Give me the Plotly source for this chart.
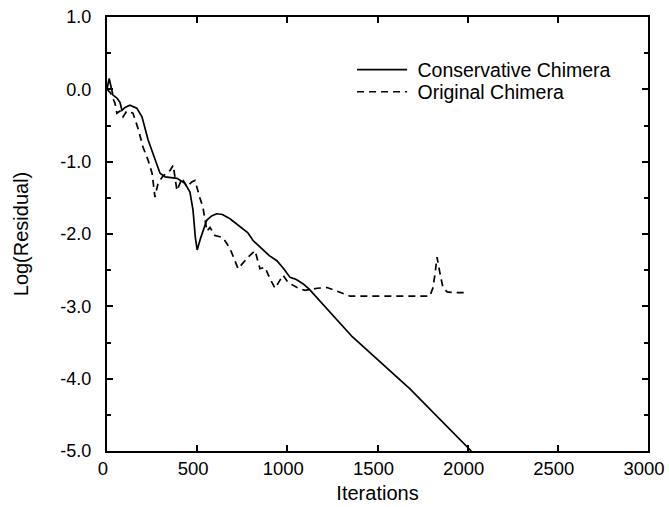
import plotly.graph_objects as go

# Conservative Chimera (solid)
cons_iter = [0, 5, 12, 33, 55, 72, 83, 100, 127, 165, 194, 228, 266, 294, 322, 360, 388, 432, 460, 477,
             490, 500, 520, 553, 580, 608, 640, 682, 738, 780, 810, 848, 865, 900, 942, 980, 1015, 1050,
             1088, 1120, 1360, 1680, 2020]
cons_val = [0.0, 0.05, 0.15, -0.08, -0.12, -0.18, -0.29, -0.25, -0.22, -0.26, -0.38, -0.70, -0.98, -1.16,
            -1.21, -1.22, -1.23, -1.30, -1.42, -1.67, -2.05, -2.22, -2.05, -1.81, -1.75, -1.72, -1.73,
            -1.79, -1.90, -1.98, -2.09, -2.18, -2.23, -2.30, -2.37, -2.48, -2.60, -2.63, -2.69, -2.76,
            -3.42, -4.14, -5.0]

# Original Chimera (dashed)
orig_iter = [0, 20, 44, 55, 72, 89, 110, 144, 172, 200, 228, 250, 266, 283, 310, 350, 367, 388, 416, 443,
             470, 488, 516, 532, 554, 571, 599, 643, 682, 727, 782, 821, 848, 876, 904, 932, 976, 1004,
             1054, 1098, 1165, 1220, 1253, 1309, 1348, 1790, 1808, 1819, 1830, 1847, 1863, 1886, 1919, 1980]
orig_val = [0.0, -0.05, -0.19, -0.33, -0.30, -0.38, -0.30, -0.33, -0.54, -0.80, -0.98, -1.16, -1.49, -1.30,
            -1.20, -1.12, -1.05, -1.40, -1.23, -1.35, -1.28, -1.26, -1.51, -1.63, -1.96, -1.91, -2.02,
            -2.05, -2.20, -2.48, -2.32, -2.23, -2.48, -2.46, -2.62, -2.75, -2.57, -2.67, -2.74, -2.78,
            -2.75, -2.74, -2.77, -2.82, -2.86, -2.86, -2.74, -2.55, -2.32, -2.55, -2.74, -2.80, -2.81, -2.81]

x_ticks = [0, 500, 1000, 1500, 2000, 2500, 3000]
x_labels = ["0", "500", "1000", "1500", "2000", "2500", "3000"]
y_ticks = [1.0, 0.0, -1.0, -2.0, -3.0, -4.0, -5.0]
y_labels = ["1.0", "0.0", "-1.0", "-2.0", "-3.0", "-4.0", "-5.0"]

font_family = "Liberation Sans, Arial, Helvetica, sans-serif"

fig = go.Figure()
fig.add_trace(go.Scatter(x=cons_iter, y=cons_val, mode="lines", name="\u00a0Conservative Chimera",
                         line=dict(color="black", width=1.7), legend="legend"))
fig.add_trace(go.Scatter(x=orig_iter, y=orig_val, mode="lines", name="\u00a0Original Chimera",
                         line=dict(color="black", width=1.7, dash="7px,5px"), legend="legend2"))

leg_common = dict(xanchor="left", yanchor="middle", bgcolor="rgba(0,0,0,0)",
                  font=dict(size=19.5, family=font_family, color="black"), itemwidth=50,
                  borderwidth=0)

fig.update_layout(
    width=669, height=507,
    margin=dict(l=107, r=21, t=17, b=56),
    paper_bgcolor="white", plot_bgcolor="white",
    font=dict(family=font_family, size=19, color="black"),
    legend=dict(x=0.453, y=0.878, **leg_common),
    legend2=dict(x=0.453, y=0.827, **leg_common),
    xaxis=dict(range=[0, 3000], tickvals=x_ticks, ticktext=x_labels,
               ticks="inside", ticklen=6, tickwidth=1.5, ticklabelshift=-4,
               tickcolor="black", showline=True, linewidth=2, linecolor="black", mirror="ticks",
               showgrid=False, zeroline=False, automargin=False, ticklabeloverflow="allow",
               title=dict(text="Iterations", font=dict(size=20), standoff=8),
               tickfont=dict(size=18.5)),
    yaxis=dict(range=[-5.0, 1.0], tickvals=y_ticks, ticktext=y_labels, ticks="inside", ticklen=6,
               tickwidth=1.5, tickcolor="black", showline=True, linewidth=2, linecolor="black",
               mirror="ticks", showgrid=False, zeroline=False, automargin=False,
               ticklabeloverflow="allow",
               minor=dict(dtick=0.5, tick0=0, ticks="inside", ticklen=4, tickcolor="black", showgrid=False),
               title=dict(text="Log(Residual)", font=dict(size=20), standoff=26),
               tickfont=dict(size=18), ticklabelstandoff=10),
    showlegend=True,
)

# remove the browser's default page margin so the 669x507 figure fills the window exactly
fig.write_html("out.html", config={"displayModeBar": False},
               post_script="document.body.style.margin='0px';document.body.style.overflow='hidden';")
